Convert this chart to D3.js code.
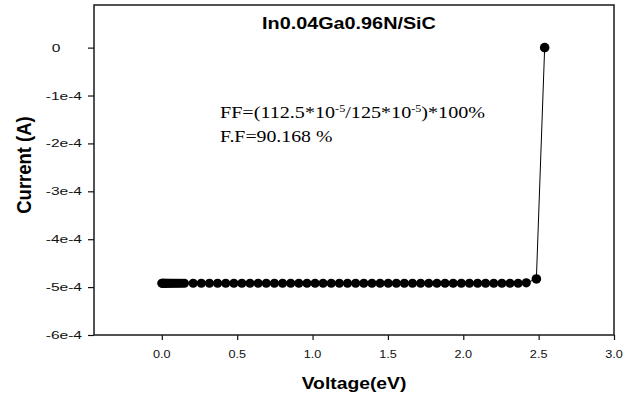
<!DOCTYPE html>
<html><head><meta charset="utf-8">
<script src="https://cdn.jsdelivr.net/npm/d3@7"></script>
<style>body{margin:0;background:#fff}svg{display:block}</style>
</head><body>
<script>
// ---- data ----
const voltage = [
  0.000, 0.005, 0.010, 0.016, 0.023, 0.031, 0.040, 0.050, 0.061, 0.073, 0.086, 0.100, 0.115, 0.131, 0.150,
  0.208, 0.262, 0.316, 0.370, 0.424, 0.478, 0.531, 0.585, 0.639, 0.693, 0.747, 0.801, 0.855, 0.909,
  0.963, 1.017, 1.070, 1.124, 1.178, 1.232, 1.286, 1.340, 1.394, 1.448, 1.502, 1.556, 1.609, 1.663,
  1.717, 1.771, 1.825, 1.879, 1.933, 1.987, 2.041, 2.095, 2.148, 2.202, 2.256, 2.310, 2.364, 2.418,
  2.485, 2.540
];
const current = [
  -4.92e-4, -4.92e-4, -4.92e-4, -4.92e-4, -4.92e-4, -4.92e-4, -4.92e-4, -4.92e-4, -4.92e-4, -4.92e-4, -4.92e-4, -4.92e-4, -4.92e-4, -4.92e-4, -4.92e-4,
  -4.92e-4, -4.92e-4, -4.92e-4, -4.92e-4, -4.92e-4, -4.92e-4, -4.92e-4, -4.92e-4, -4.92e-4, -4.92e-4, -4.92e-4, -4.92e-4, -4.92e-4, -4.92e-4,
  -4.92e-4, -4.92e-4, -4.92e-4, -4.92e-4, -4.92e-4, -4.92e-4, -4.92e-4, -4.92e-4, -4.92e-4, -4.92e-4, -4.92e-4, -4.92e-4, -4.92e-4, -4.92e-4,
  -4.92e-4, -4.92e-4, -4.92e-4, -4.92e-4, -4.92e-4, -4.92e-4, -4.92e-4, -4.92e-4, -4.92e-4, -4.92e-4, -4.92e-4, -4.92e-4, -4.92e-4, -4.91e-4,
  -4.83e-4, 0
];
const xTicks = [0, 0.5, 1.0, 1.5, 2.0, 2.5, 3.0];
const xTickLabels = ["0.0", "0.5", "1.0", "1.5", "2.0", "2.5", "3.0"];
const yTicks = [0, -1e-4, -2e-4, -3e-4, -4e-4, -5e-4, -6e-4];
const yTickLabels = ["0", "-1e-4", "-2e-4", "-3e-4", "-4e-4", "-5e-4", "-6e-4"];
const chartTitle = "In0.04Ga0.96N/SiC";
const xTitle = "Voltage(eV)";
const yTitle = "Current (A)";

// ---- layout ----
const W = 633, H = 400;
const plot = {left: 94, right: 614, top: 5, bottom: 335};
const x = d3.scaleLinear().domain([-0.45, 3.0]).range([plot.left, plot.right]);
const y = d3.scaleLinear().domain([-6e-4, 0.89e-4]).range([plot.bottom, plot.top]);

const svg = d3.select("body").append("svg").attr("width", W).attr("height", H);
const sans = "'Liberation Sans', Arial, sans-serif";
const serif = "'Liberation Serif', 'Times New Roman', serif";

// axes (ticks only; labels drawn separately)
const xAxis = svg.append("g").attr("transform", `translate(0,${plot.bottom})`)
  .call(d3.axisBottom(x).tickValues(xTicks).tickSize(5).tickFormat(""));
const yAxis = svg.append("g").attr("transform", `translate(${plot.left},0)`)
  .call(d3.axisLeft(y).tickValues(yTicks).tickSize(6).tickFormat(""));
[xAxis, yAxis].forEach(a => {
  a.select(".domain").remove();
  a.selectAll(".tick line").attr("stroke", "#111").attr("stroke-width", 1.2);
});

// frame
svg.append("rect").attr("x", plot.left).attr("y", plot.top)
  .attr("width", plot.right - plot.left).attr("height", plot.bottom - plot.top)
  .attr("fill", "none").attr("stroke", "#1a1a1a").attr("stroke-width", 1.5);

// x tick labels
xTicks.forEach((t, i) => {
  svg.append("g").attr("transform", `translate(${x(t)},358) scale(1.15,1)`)
    .append("text").attr("text-anchor", "middle")
    .attr("font-family", sans).attr("font-size", 11).attr("fill", "#111")
    .text(xTickLabels[i]);
});
// y tick labels
yTicks.forEach((t, i) => {
  const right = yTickLabels[i] === "0" ? 60.5 : 82;
  svg.append("g").attr("transform", `translate(${right},${y(t) + 4}) scale(1.35,1)`)
    .append("text").attr("text-anchor", "end")
    .attr("font-family", sans).attr("font-size", 11.5).attr("fill", "#111")
    .text(yTickLabels[i]);
});

// titles
svg.append("g").attr("transform", "translate(349,29) scale(1.2,1)")
  .append("text").attr("text-anchor", "middle").attr("font-family", sans)
  .attr("font-weight", "bold").attr("font-size", 16.5).attr("fill", "#000").text(chartTitle);
svg.append("g").attr("transform", "translate(354,389) scale(1.17,1)")
  .append("text").attr("text-anchor", "middle").attr("font-family", sans)
  .attr("font-weight", "bold").attr("font-size", 16.5).attr("fill", "#000").text(xTitle);
svg.append("g").attr("transform", "translate(30.5,165) rotate(-90) scale(1.12,1.2)")
  .append("text").attr("text-anchor", "middle").attr("font-family", sans)
  .attr("font-weight", "bold").attr("font-size", 16.5).attr("fill", "#000").text(yTitle);

// annotation
const ann1 = svg.append("g").attr("transform", "translate(220,118) scale(1.22,1)")
  .append("text").attr("font-family", serif).attr("font-size", 16.5).attr("fill", "#000");
ann1.append("tspan").text("FF=(112.5*10");
ann1.append("tspan").attr("font-size", 10).attr("dy", -6).text("-5");
ann1.append("tspan").attr("dy", 6).text("/125*10");
ann1.append("tspan").attr("font-size", 10).attr("dy", -6).text("-5");
ann1.append("tspan").attr("dy", 6).text(")*100%");
svg.append("g").attr("transform", "translate(220,142) scale(1.2,1)")
  .append("text").attr("font-family", serif).attr("font-size", 16.5).attr("fill", "#000")
  .text("F.F=90.168 %");

// data line + markers
const pts = voltage.map((v, i) => [v, current[i]]);
svg.append("path").datum(pts)
  .attr("d", d3.line().x(d => x(d[0])).y(d => y(d[1])))
  .attr("fill", "none").attr("stroke", "#000").attr("stroke-width", 1);
svg.append("g").selectAll("circle").data(pts).join("circle")
  .attr("cx", d => x(d[0])).attr("cy", d => y(d[1]))
  .attr("r", (d, i) => i >= pts.length - 2 ? 4.8 : 4.6).attr("fill", "#000");
</script>
</body></html>
